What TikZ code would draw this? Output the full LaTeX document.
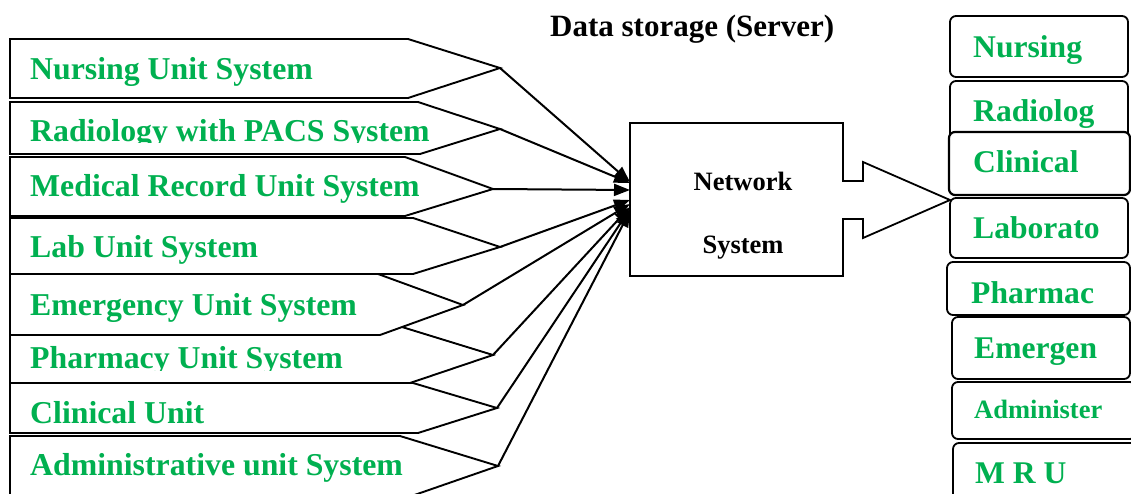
\documentclass[tikz,border=0pt]{standalone}
\usepackage{fontspec}
\setmainfont{Liberation Serif}
\usetikzlibrary{arrows.meta}
\definecolor{unitgreen}{RGB}{0,176,80}

\tikzset{
  unitbox/.style={draw=black, line width=1.9pt, fill=white, line join=miter},
  unitlabel/.style={anchor=base west, inner sep=0pt, text=unitgreen,
    font=\fontsize{31.8}{36}\selectfont\bfseries},
  storebox/.style={draw=black, line width=1.8pt, fill=white, rounded corners=6pt},
  storelabel/.style={anchor=base west, inner sep=0pt, text=unitgreen,
    font=\fontsize{31.6}{36}\selectfont\bfseries},
  netlabel/.style={anchor=base, inner sep=0pt,
    font=\fontsize{26.5}{30}\selectfont\bfseries},
  feed/.style={line width=2pt, -{Triangle[length=16pt,width=12pt]}},
}

% pentagon-shaped unit panel: top, bottom, top corner x, bottom corner x, tip x, tip y, tip name
\newcommand\unitshape[7]{%
  \draw[unitbox] (10,#1) -- (#3,#1) -- (#5,#6) -- (#4,#2) -- (10,#2) -- cycle;
  \coordinate (#7) at (#5,#6);}

\begin{document}
\begin{tikzpicture}[x=1pt,y=-1pt]
\useasboundingbox (0,0) rectangle (1131,494);

% unit panels on the left
\unitshape{39}{98}{408}{408}{500}{68}{tNur}
\unitshape{102}{154}{418}{420}{500}{129}{tRad}
\unitshape{157}{216}{405}{405}{493}{189}{tMed}
\unitshape{218}{274}{413}{413}{500}{247}{tLab}
\unitshape{327}{383}{402}{410}{493}{355}{tPha}
\unitshape{274}{335}{378}{380}{463}{305}{tEme}
\unitshape{383}{433}{413}{418}{497}{408}{tCli}
\unitshape{436}{500}{400}{400}{498}{466}{tAdm}

\node[unitlabel] (lNur) at (30,80) {Nursing Unit System};
\begin{scope}
  \clip (0,100) rectangle (520,143);
  \node[unitlabel] (lRad) at (30,142) {Radiology with PACS System};
\end{scope}
\node[unitlabel] (lMed) at (30,197) {Medical Record Unit System};
\node[unitlabel] (lLab) at (30,258) {Lab Unit System};
\node[unitlabel] (lEme) at (30,315) {Emergency Unit System};
\begin{scope}
  \clip (0,336) rectangle (520,370);
  \node[unitlabel] (lPha) at (30,368) {Pharmacy Unit System};
\end{scope}
\node[unitlabel] (lCli) at (30,423) {Clinical Unit};
\node[unitlabel] (lAdm) at (30,475) {Administrative unit System};

% network system box with its outgoing block arrow
\draw[line width=1.8pt, line join=miter]
  (630,123) -- (843,123) -- (843,181) -- (863,181) -- (863,162) -- (950,200)
  -- (863,238) -- (863,219) -- (843,219) -- (843,276) -- (630,276) -- cycle;
\coordinate (nNur) at (630,182);
\coordinate (nRad) at (630,183);
\coordinate (nMed) at (630,190);
\coordinate (nLab) at (630,200);
\coordinate (nEme) at (630,204);
\coordinate (nPha) at (630,207);
\coordinate (nCli) at (630,209);
\coordinate (nAdm) at (630,211);
\node[netlabel] (netA) at (743,191) {Network};
\node[netlabel] (netB) at (743,254) {System};

% feeds from every unit into the network
\draw[feed] (tNur) -- (nNur);
\draw[feed] (tRad) -- (nRad);
\draw[feed] (tMed) -- (nMed);
\draw[feed] (tLab) -- (nLab);
\draw[feed] (tEme) -- (nEme);
\draw[feed] (tPha) -- (nPha);
\draw[feed] (tCli) -- (nCli);
\draw[feed] (tAdm) -- (nAdm);

% heading
\node[anchor=base west, inner sep=0pt, font=\fontsize{31}{35}\selectfont\bfseries]
  (title) at (550,37) {Data storage (Server)};

% storage blocks on the right
\draw[storebox] (950,16) rectangle (1128,77);
\node[storelabel] (sNur) at (973,58) {Nursing};
\draw[storebox] (950,81) rectangle (1128,150);
\node[storelabel] (sRad) at (973,122) {Radiolog};
\draw[storebox, line width=2.2pt] (949,132) rectangle (1130,195);
\node[storelabel] (sCli) at (973,173) {Clinical};
\draw[storebox] (950,198) rectangle (1128,258);
\node[storelabel] (sLab) at (973,238) {Laborato};
\draw[storebox] (947,262) rectangle (1130,315);
\node[storelabel] (sPha) at (971,303) {Pharmac};
\draw[storebox] (952,317) rectangle (1130,379);
\node[storelabel] (sEme) at (974,358) {Emergen};
\draw[storebox] (952,382) rectangle (1136,439);
\node[storelabel, font=\fontsize{26.5}{30}\selectfont\bfseries] (sAdm) at (974,418) {Administer};
\draw[storebox] (953,443) rectangle (1140,510);
\node[storelabel] (sMru) at (975,483) {M R U};
\end{tikzpicture}
\end{document}
